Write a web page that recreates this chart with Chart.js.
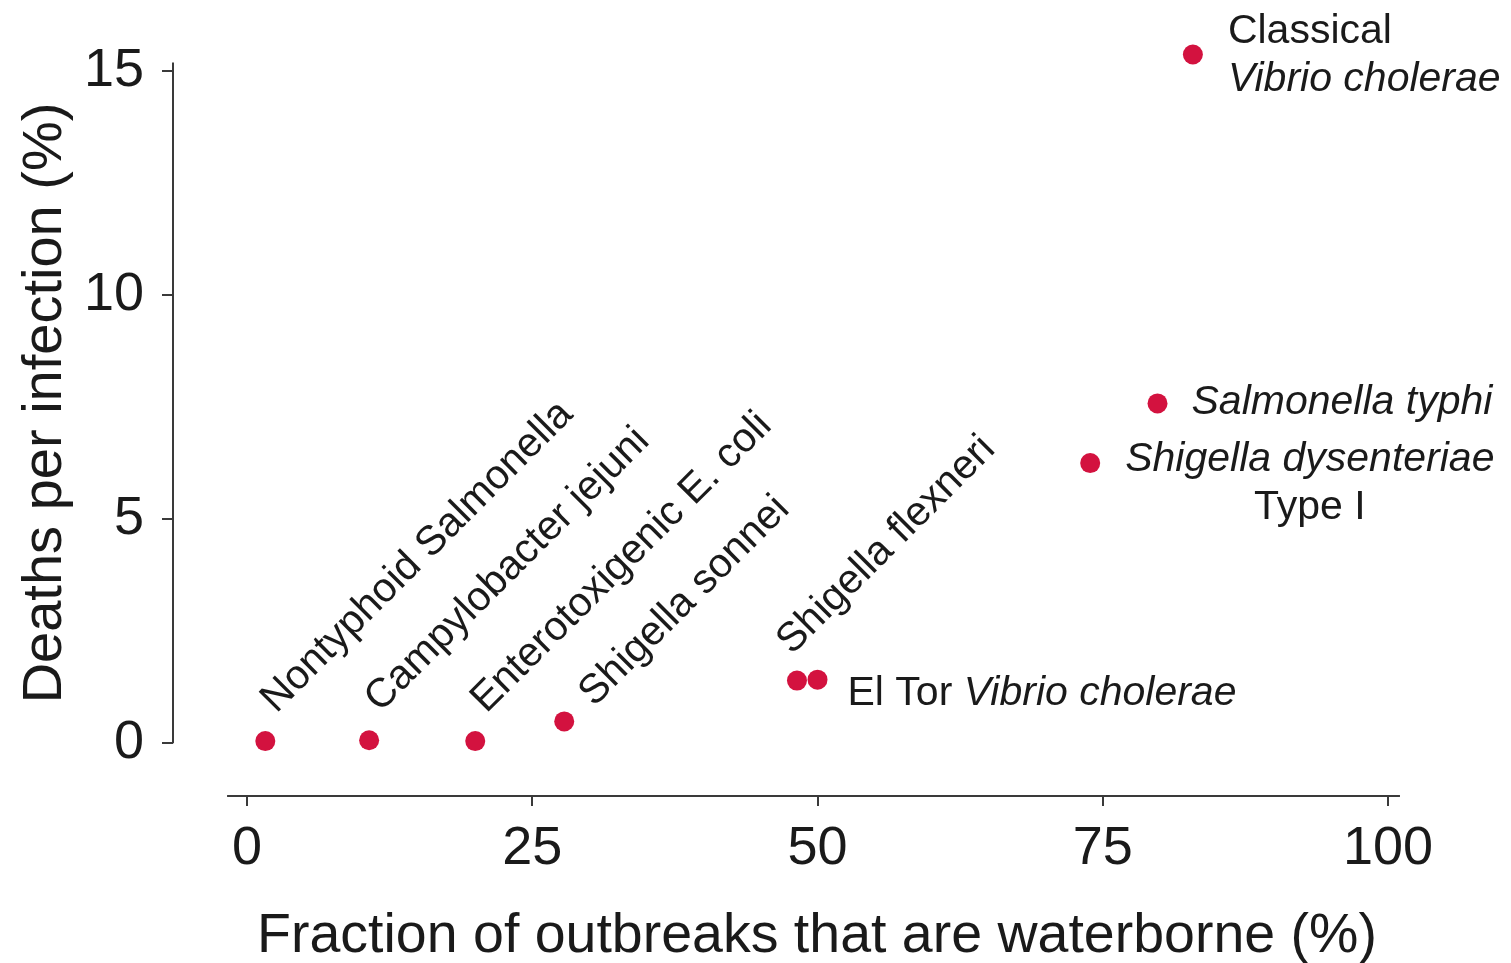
<!DOCTYPE html>
<html>
<head>
<meta charset="utf-8">
<script src="https://cdn.jsdelivr.net/npm/chart.js@4/dist/chart.umd.min.js"></script>
<style>
  html, body { margin: 0; padding: 0; background: #ffffff; }
  #wrap { width: 1511px; height: 963px; position: relative; }
</style>
</head>
<body>
<div id="wrap"><canvas id="c" width="1511" height="963"></canvas></div>
<script>
// ---- data ----
const pathogens = [
  "Nontyphoid Salmonella",
  "Campylobacter jejuni",
  "Enterotoxigenic E. coli",
  "Shigella sonnei",
  "Shigella flexneri",
  "El Tor Vibrio cholerae",
  "Shigella dysenteriae Type I",
  "Salmonella typhi",
  "Classical Vibrio cholerae"
];
const waterborneFraction = [1.6, 10.7, 20.0, 27.8, 48.2, 50.0, 73.9, 79.8, 82.9];
const deathsPerInfection = [0.05, 0.07, 0.05, 0.49, 1.40, 1.42, 6.25, 7.58, 15.36];
const xTickValues = [0, 25, 50, 75, 100];
const yTickValues = [0, 5, 10, 15];
const xTitle = "Fraction of outbreaks that are waterborne (%)";
const yTitle = "Deaths per infection (%)";

// ---- label styling (segments: [text, italic]) ----
const FONT = "'Liberation Sans', Arial, Helvetica, sans-serif";
const TEXT = "#1a1a1a";
const labelSpecs = [
  { rot: -45, dx: 11, dy: -27, lines: [[["Nontyphoid Salmonella", false]]] },
  { rot: -45, dx: 11, dy: -27, lines: [[["Campylobacter jejuni", false]]] },
  { rot: -45, dx: 11, dy: -27, lines: [[["Enterotoxigenic E. coli", false]]] },
  { rot: -45, dx: 30, dy: -14, lines: [[["Shigella sonnei", false]]] },
  { rot: -45, dx: -5, dy: -25, lines: [[["Shigella flexneri", false]]] },
  { rot: 0, dx: 30, dy: 25, lines: [[["El Tor ", false], ["Vibrio cholerae", true]]] },
  { rot: 0, dx: 35, dy: 8, lines: [[["Shigella dysenteriae", true]], [["Type I", false]]], centerSecond: true },
  { rot: 0, dx: 34, dy: 11, lines: [[["Salmonella typhi", true]]] },
  { rot: 0, dx: 35, dy: -12, lines: [[["Classical", false]], [["Vibrio cholerae", true]]] }
];
const LABEL_SIZE = 41;
const LINE_GAP = 48;

function fontStr(italic) { return (italic ? "italic " : "") + LABEL_SIZE + "px " + FONT; }
function lineWidth(ctx, line) {
  let w = 0;
  line.forEach(([t, it]) => { ctx.font = fontStr(it); w += ctx.measureText(t).width; });
  return w;
}
function drawLine(ctx, line, x, y) {
  let cx = x;
  line.forEach(([t, it]) => {
    ctx.font = fontStr(it);
    ctx.fillText(t, cx, y);
    cx += ctx.measureText(t).width;
  });
}

const labelPlugin = {
  id: "pointLabels",
  afterDatasetsDraw(chart) {
    const ctx = chart.ctx;
    const meta = chart.getDatasetMeta(0);
    ctx.save();
    ctx.fillStyle = TEXT;
    ctx.textBaseline = "alphabetic";
    ctx.textAlign = "left";
    meta.data.forEach((pt, i) => {
      const spec = labelSpecs[i];
      if (!spec) return;
      const x0 = pt.x + spec.dx, y0 = pt.y + spec.dy;
      ctx.save();
      ctx.translate(x0, y0);
      ctx.rotate(spec.rot * Math.PI / 180);
      const firstW = lineWidth(ctx, spec.lines[0]);
      spec.lines.forEach((line, li) => {
        let lx = 0;
        if (li > 0 && spec.centerSecond) {
          lx = (firstW - lineWidth(ctx, line)) / 2;
        }
        drawLine(ctx, line, lx, li * LINE_GAP);
      });
      ctx.restore();
    });
    ctx.restore();
  }
};

const axisLinePlugin = {
  id: "axisLines",
  beforeDatasetsDraw(chart) {
    const { ctx, chartArea, scales } = chart;
    const xs = scales.x, ys = scales.y;
    ctx.save();
    ctx.strokeStyle = "#3a3a3a";
    ctx.lineWidth = 2;
    ctx.beginPath();
    ctx.moveTo(xs.getPixelForValue(-1.75), chartArea.bottom);
    ctx.lineTo(xs.getPixelForValue(101.05), chartArea.bottom);
    ctx.moveTo(chartArea.left, ys.getPixelForValue(0));
    ctx.lineTo(chartArea.left, ys.getPixelForValue(15.18));
    ctx.stroke();
    ctx.restore();
  }
};

new Chart(document.getElementById("c"), {
  type: "scatter",
  data: {
    datasets: [{
      label: "Pathogens",
      data: waterborneFraction.map((x, i) => ({ x: x, y: deathsPerInfection[i] })),
      backgroundColor: "#d3123f",
      borderWidth: 0,
      pointRadius: 10,
      pointHoverRadius: 10
    }]
  },
  options: {
    responsive: false,
    animation: false,
    layout: { padding: { left: 0, right: 50, top: 3, bottom: 0 } },
    plugins: { legend: { display: false }, tooltip: { enabled: false } },
    scales: {
      x: {
        type: "linear",
        min: -6.49, max: 106.4,
        afterBuildTicks: (axis) => { axis.ticks = xTickValues.map(v => ({ value: v })); },
        afterFit: (s) => { s.height = 167; s.paddingLeft = 0; s.paddingRight = 0; },
        grid: { display: true, drawOnChartArea: false, drawTicks: true, tickLength: 10, color: "#3a3a3a", lineWidth: 2 },
        border: { display: false },
        ticks: { font: { size: 54, family: FONT }, color: TEXT, padding: 11, maxRotation: 0, autoSkip: false },
        title: { display: true, text: xTitle, font: { size: 55.5, family: FONT }, color: TEXT, padding: { top: 0, bottom: -7 } }
      },
      y: {
        type: "linear",
        min: -1.174, max: 16.353,
        afterBuildTicks: (axis) => { axis.ticks = yTickValues.map(v => ({ value: v })); },
        afterFit: (s) => { s.width = 173; s.paddingTop = 0; s.paddingBottom = 0; },
        grid: { display: true, drawOnChartArea: false, drawTicks: true, tickLength: 11, color: "#3a3a3a", lineWidth: 2 },
        border: { display: false },
        ticks: { font: { size: 54, family: FONT }, color: TEXT, padding: 18 },
        title: { display: true, text: yTitle, font: { size: 56, family: FONT }, color: TEXT, padding: { top: 12, bottom: 0 } }
      }
    }
  },
  plugins: [axisLinePlugin, labelPlugin]
});
</script>
</body>
</html>
